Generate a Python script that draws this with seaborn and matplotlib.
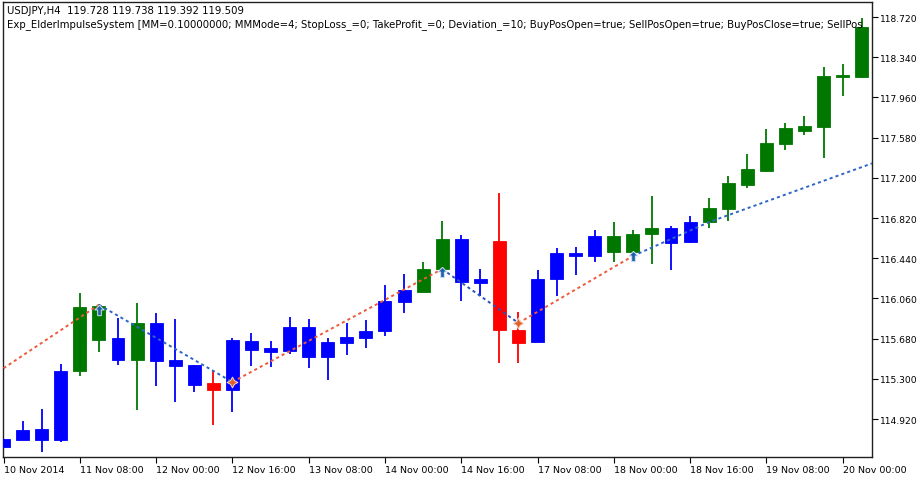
import numpy as np
import pandas as pd
import matplotlib
matplotlib.use("Agg")
import matplotlib.pyplot as plt
import seaborn as sns

# ---------------- data ----------------
tick_labels = ["10 Nov 2014", "11 Nov 08:00", "12 Nov 00:00", "12 Nov 16:00",
               "13 Nov 08:00", "14 Nov 00:00", "14 Nov 16:00", "17 Nov 08:00",
               "18 Nov 00:00", "18 Nov 16:00", "19 Nov 08:00", "20 Nov 00:00"]

opens = [114.656, 114.725, 114.826, 114.725, 115.377, 115.991, 115.683, 115.481,
         115.825, 115.481, 115.431, 115.258, 115.197, 115.660, 115.589, 115.566,
         115.787, 115.504, 115.639, 115.686, 115.749, 116.029, 116.124, 116.338,
         116.622, 116.206, 116.600, 115.764, 115.645, 116.244, 116.489, 116.464,
         116.653, 116.496, 116.669, 116.723, 116.591, 116.780, 116.905, 117.132,
         117.267, 117.520, 117.645, 117.677, 118.172, 118.150]
highs = [114.735, 114.899, 115.015, 115.440, 116.111, 116.007, 115.872, 116.017,
         115.920, 115.866, 115.431, 115.386, 115.683, 115.733, 115.658, 115.882,
         115.866, 115.683, 115.828, 115.859, 116.190, 116.291, 116.401, 116.789,
         116.660, 116.338, 117.056, 115.935, 116.332, 116.534, 116.543, 116.710,
         116.780, 116.710, 117.025, 116.742, 116.836, 117.006, 117.220, 117.425,
         117.661, 117.718, 117.787, 118.250, 118.276, 118.708]
lows = [114.652, 114.718, 114.611, 114.700, 115.324, 115.556, 115.431, 115.008,
        115.229, 115.078, 115.178, 114.864, 114.984, 115.418, 115.409, 115.535,
        115.400, 115.292, 115.525, 115.589, 115.708, 115.920, 116.124, 116.338,
        116.039, 116.080, 115.450, 115.450, 115.645, 116.080, 116.281, 116.401,
        116.401, 116.496, 116.385, 116.329, 116.584, 116.723, 116.795, 117.101,
        117.252, 117.466, 117.605, 117.384, 117.976, 118.141]
closes = [114.731, 114.817, 114.725, 115.377, 115.976, 115.670, 115.481, 115.825,
          115.471, 115.418, 115.242, 115.197, 115.670, 115.575, 115.556, 115.787,
          115.504, 115.651, 115.693, 115.749, 116.033, 116.142, 116.338, 116.622,
          116.218, 116.244, 115.764, 115.639, 116.244, 116.489, 116.464, 116.653,
          116.502, 116.669, 116.723, 116.584, 116.780, 116.912, 117.151, 117.283,
          117.529, 117.668, 117.687, 118.165, 118.150, 118.623]
impulse = list("BBBBGGBGBBBRBBBBBBBBBBGGBBRRBBBBGGGBBGGGGGGGGG")

# signal line vertices (bar index, price)
red_segments = [([0, 5], [115.400, 116.000]),
                ([12, 23], [115.270, 116.338]),
                ([27, 33], [115.828, 116.461])]
blue_segments = [([5, 12], [116.000, 115.270]),
                 ([23, 27], [116.338, 115.828]),
                 ([33, 37, 45.6], [116.461, 116.782, 117.340])]

buy_idx = [5, 23, 33]
buy_price = [115.953, 116.313, 116.461]
sell_idx = [12, 27]
sell_price = [115.270, 115.828]

header1 = "USDJPY,H4  119.728 119.738 119.392 119.509"
# visible (clipped) part of the expert's parameter line
header2 = ("Exp_ElderImpulseSystem [MM=0.10000000; MMMode=4; StopLoss_=0; TakeProfit_=0; "
           "Deviation_=10; BuyPosOpen=true; SellPosOpen=true; BuyPosClose=true; SellPos")

# ---------------- style ----------------
sns.set_style("white")
plt.rcParams["font.family"] = ["DejaVu Sans"]

cmap = {"B": "#0000ff", "G": "#007800", "R": "#ff0000"}

fig = plt.figure(figsize=(9.2, 4.85), dpi=100)
ax = fig.add_axes([3 / 920, 1 - 458 / 485, 869 / 920, 455 / 485])

df = pd.DataFrame({"i": np.arange(len(opens)), "open": opens, "high": highs,
                   "low": lows, "close": closes, "imp": impulse})
df["bot"] = df[["open", "close"]].min(axis=1)
df["h"] = (df["open"] - df["close"]).abs()
df["col"] = df["imp"].map(cmap)

# wicks
ax.vlines(df["i"], df["low"], df["high"], colors=df["col"], lw=1.3, zorder=2)
# bodies
ax.bar(df["i"], df["h"], bottom=df["bot"], width=0.68, color=df["col"],
       edgecolor=df["col"], lw=0.6, zorder=3)

# signal lines
for xs, ys in red_segments:
    sns.lineplot(x=xs, y=ys, ax=ax, color="#ee5a3a", lw=1.4,
                 linestyle=(0, (1.6, 1.6)), zorder=4, sort=False)
for k, (xs, ys) in enumerate(blue_segments):
    sns.lineplot(x=xs, y=ys, ax=ax, color="#2a55b8" if k == 1 else "#2e66c8", lw=1.4,
                 linestyle=(0, (1.6, 1.6)), zorder=4, sort=False)

arrow = [(0, 1), (0.9, 0.1), (0.35, 0.1), (0.35, -1), (-0.35, -1), (-0.35, 0.1),
         (-0.9, 0.1), (0, 1)]
ax.scatter(buy_idx, buy_price, marker=arrow, s=55, color="#1f5fa8",
           edgecolor="#cfe0f5", lw=0.7, zorder=5)
ax.scatter(sell_idx, sell_price, marker=(4, 1, 0), s=60, color="#e0602a",
           edgecolor="#f8d8c8", lw=0.7, zorder=5)

# axes
ax.set_xlim(-0.03, 45.54)
ax.set_ylim(114.561, 118.862)
yt = [114.92 + 0.38 * k for k in range(11)]
ax.yaxis.tick_right()
ax.set_yticks(yt)
ax.set_yticklabels([f"{v:.3f}" for v in yt])
ax.set_xticks(list(range(0, 45, 4)))
ax.set_xticklabels(tick_labels)
for lbl in ax.get_xticklabels():
    lbl.set_horizontalalignment("left")
ax.tick_params(axis="y", direction="out", length=4, width=0.8, pad=2,
               labelsize=6.6, colors="black", right=True, left=False)
ax.tick_params(axis="x", direction="out", length=4, width=0.8, pad=1.5,
               labelsize=6.8, colors="black", bottom=True)
for s in ax.spines.values():
    s.set_visible(True)
    s.set_color("#202020")
    s.set_linewidth(1.0)
ax.set_xlabel("")
ax.set_ylabel("")

ax.text(4 / 869, 1 - 8 / 455, header1, transform=ax.transAxes, va="center",
        ha="left", fontsize=7.3, color="black", clip_on=True)
ax.text(4 / 869, 1 - 22 / 455, header2, transform=ax.transAxes, va="center",
        ha="left", fontsize=7.3, color="black", clip_on=True)

fig.savefig("out.png", dpi=100)
